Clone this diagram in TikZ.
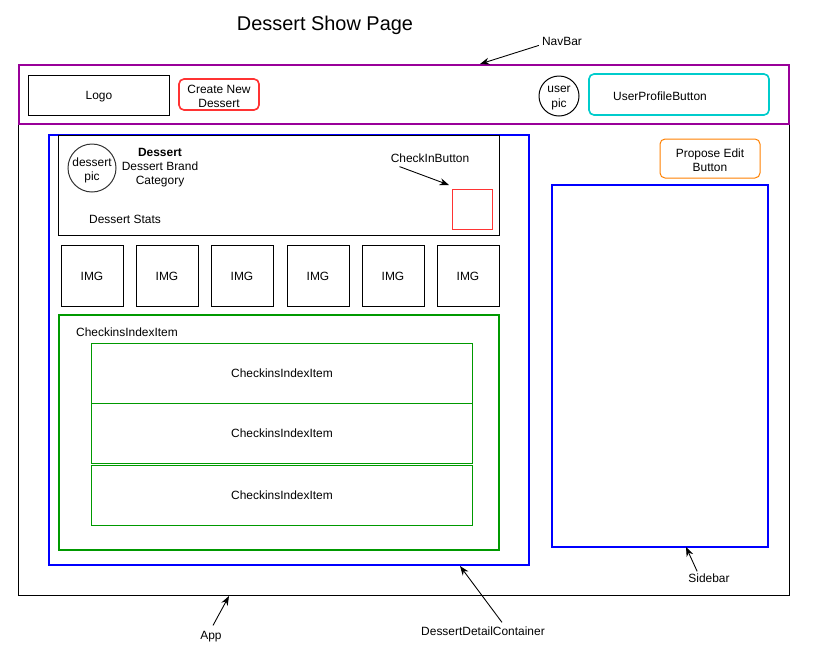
\documentclass[tikz,border=0pt]{standalone}
\usepackage{fontspec}
\setmainfont{Liberation Sans}
\usetikzlibrary{arrows.meta}
\definecolor{navpurple}{HTML}{990099}
\definecolor{btnred}{HTML}{FF3333}
\definecolor{btncyan}{HTML}{00CCCC}
\definecolor{btnorange}{HTML}{FF8000}
\definecolor{cgreen}{HTML}{009900}
\definecolor{cblue}{HTML}{0000FF}
\begin{document}
\begin{tikzpicture}[x=0.03cm, y=-0.03cm,
    every node/.style={font=\fontsize{10.2}{12}\selectfont, align=center, inner sep=0pt},
    box/.style={draw, line width=0.85pt},
    bigbox/.style={draw, line width=1.7pt},
    btn/.style={draw, line width=1.4pt, rounded corners=0.15cm},
    pic/.style={circle, draw, line width=0.85pt},
    img/.style={box, minimum width=1.86cm, minimum height=1.83cm},
    item/.style={draw=cgreen, line width=0.85pt, minimum width=11.4cm, minimum height=1.8cm},
    inside/.style={label={[yshift=-0.06cm]center:#1}},
    arr/.style={-{Stealth[length=8pt, width=6pt]}, line width=0.75pt}]
    \useasboundingbox (0, 0) rectangle (819, 662);

    %Nodes
    \node[font=\fontsize{17}{20}\selectfont] at (325, 25) (title) {Dessert Show Page};
    \node[box, minimum width=23.1cm, minimum height=15.9cm] at (404, 330) (app) {};
    \node[bigbox, draw=navpurple, minimum width=23.1cm, minimum height=1.77cm] at (404, 94.5) (navbar) {};
    \node[box, minimum width=4.2cm, minimum height=1.2cm, text depth=0pt] at (99, 95) (logo) {Logo};
    \node[btn, draw=btnred, minimum width=2.4cm, minimum height=0.93cm, inside={Create New\\Dessert}] at (219, 94.5) (create) {};
    \node[pic, minimum size=1.2cm, inside={user\\pic}] at (559, 96) (userpic) {};
    \node[btn, draw=btncyan, minimum width=5.4cm, minimum height=1.23cm] at (679, 94.5) (profile) {};
    \node[] at (660, 96) (profiletext) {UserProfileButton};

    \node[bigbox, draw=cblue, minimum width=14.4cm, minimum height=12.9cm] at (289, 350) (detail) {};
    \node[box, minimum width=13.2cm, minimum height=3cm] at (279, 185) (header) {};
    \node[pic, draw=black!80, minimum size=1.44cm, inside={dessert\\pic}] at (92, 168) (dessertpic) {};
    \node[] at (160, 168) (info) {\textbf{Dessert}\\Dessert Brand\\Category};
    \node[] at (125, 219) (stats) {Dessert Stats};
    \node[] at (430, 158) (checkinlabel) {CheckInButton};
    \node[draw=btnred, line width=0.85pt, minimum size=1.2cm] at (472, 209) (checkin) {};

    \foreach \x [count=\i] in {92, 167, 242, 318, 393, 468}
        \node[img] at (\x, 276) (img\i) {IMG};

    \node[bigbox, draw=cgreen, minimum width=13.2cm, minimum height=7.05cm] at (279, 432.5) (checkins) {};
    \node[] at (127, 332) (checkinslabel) {CheckinsIndexItem};
    \node[item] at (282, 373) (item1) {CheckinsIndexItem};
    \node[item] at (282, 433.5) (item2) {CheckinsIndexItem};
    \node[item] at (282, 495) (item3) {CheckinsIndexItem};

    \node[btn, draw=btnorange, line width=0.85pt, minimum width=3cm, minimum height=1.17cm, inside={Propose Edit\\Button}] at (710, 158.5) (propose) {};
    \node[bigbox, draw=cblue, minimum width=6.48cm, minimum height=10.86cm] at (660, 366) (sidebar) {};

    \node[] at (562, 41) (navlabel) {NavBar};
    \node[] at (709, 578) (sidelabel) {Sidebar};
    \node[] at (211, 637) (applabel) {App};
    \node[] at (483, 631) (detaillabel) {DessertDetailContainer};

    \coordinate (navtip) at (480, 64);
    \coordinate (checkintip) at (449, 185);
    \coordinate (sidetip) at (686, 547);
    \coordinate (apptip) at (229, 596);
    \coordinate (detailtip) at (460, 566);

    %Lines
    \draw[arr] (navlabel.south west) ++(-3, 0) -- (navtip);
    \draw[arr] (checkinlabel.south west) ++(9, 4) -- (checkintip);
    \draw[arr] (sidelabel.north west) ++(9, -2) -- (sidetip);
    \draw[arr] (applabel.north) ++(2, -6) -- (apptip);
    \draw[arr] (detaillabel.north) ++(19, -4) -- (detailtip);

\end{tikzpicture}
\end{document}
